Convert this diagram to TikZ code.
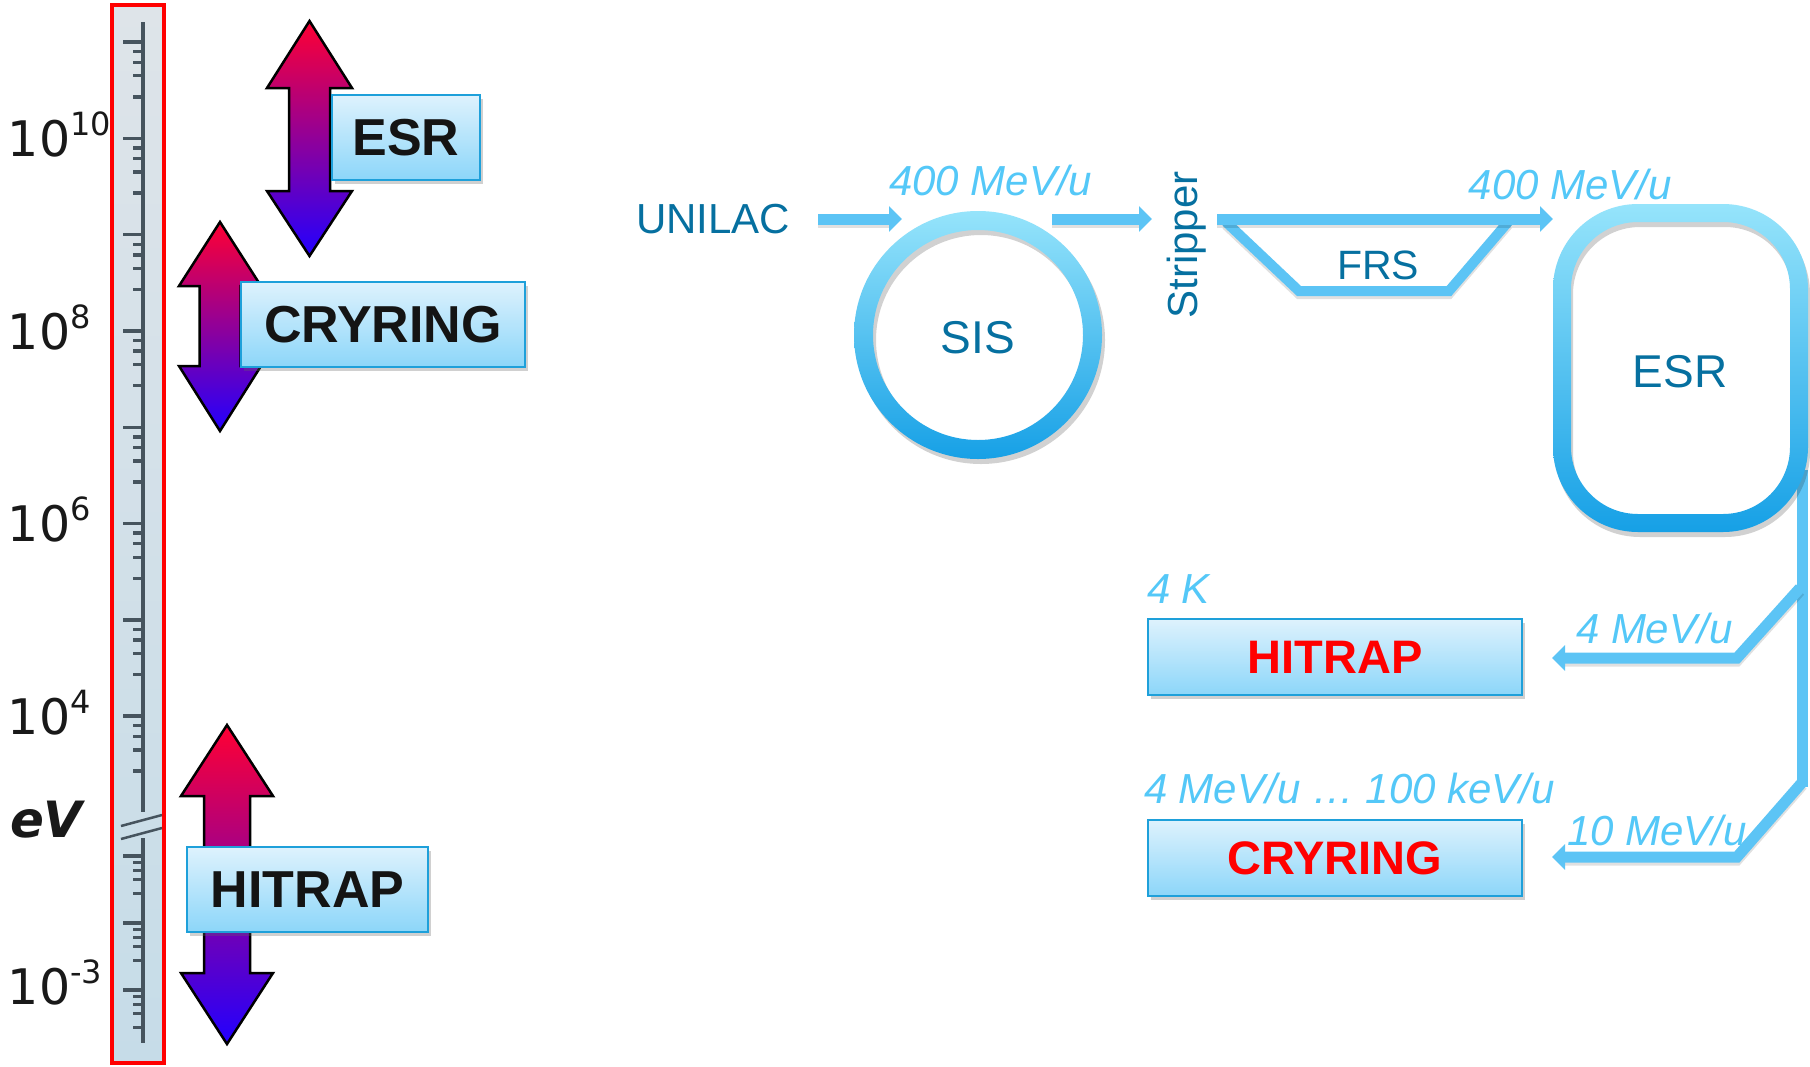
\documentclass[tikz,border=0pt]{standalone}
\usepackage{fontspec}
\setmainfont{Liberation Sans}
\newfontfamily\dejavu{DejaVu Sans}
\usetikzlibrary{arrows.meta,shadows}
\definecolor{teal0}{RGB}{6,112,160}
\definecolor{lblue}{RGB}{84,200,248}
\definecolor{beam}{RGB}{92,196,245}
\definecolor{boxtop}{RGB}{222,242,253}
\definecolor{boxbot}{RGB}{140,214,249}
\definecolor{boxedge}{RGB}{30,160,218}
\definecolor{ringtop}{RGB}{150,228,251}
\definecolor{ringbot}{RGB}{22,160,230}
\definecolor{tickc}{RGB}{70,84,94}
\definecolor{rulertop}{RGB}{222,228,233}
\definecolor{rulerbot}{RGB}{198,220,232}
\definecolor{arrred}{RGB}{255,0,51}
\definecolor{arrmid}{RGB}{200,0,160}
\definecolor{arrblue}{RGB}{34,0,255}
\newcommand{\fs}[1]{\fontsize{#1}{#1}\selectfont}
\newcommand{\darrow}[7]{\path[dblarrow] (#1,#2) -- ({#1+#6},#3) -- ({#1+#7},#3) -- ({#1+#7},#4) -- ({#1+#6},#4) -- (#1,#5) -- ({#1-#6},#4) -- ({#1-#7},#4) -- ({#1-#7},#3) -- ({#1-#6},#3) -- cycle;}
\begin{document}
\begin{tikzpicture}[x=1pt,y=-1pt,
  every node/.style={inner sep=0pt, outer sep=0pt},
  tickline/.style={draw=tickc, line width=3.4pt},
  scalelbl/.style={font=\dejavu\fs{49}, anchor=base west, text=black!90},
  dblarrow/.style={draw=black, line width=2.5pt, top color=arrred, middle color=arrmid, bottom color=arrblue, line join=miter},
  lbox/.style={draw=boxedge, line width=2pt, top color=boxtop, bottom color=boxbot,
     drop shadow={shadow xshift=3pt, shadow yshift=-4pt, fill=black!60, opacity=0.3}},
  ltext/.style={font=\bfseries\fs{52}, text=black!92},
  rtext/.style={font=\bfseries\fs{47}, text=red},
  bluelbl/.style={font=\itshape\fs{42}, text=lblue},
  teallbl/.style={text=teal0},
  beamline/.style={draw=beam, line width=11pt, line join=miter},
  beamarrow/.style={beamline, -{Triangle[width=25pt,length=13pt]}},
  beamshadow/.style={draw=black, opacity=0.12, line width=11pt, line join=miter},
  ringfill/.style={top color=ringtop, bottom color=ringbot, even odd rule},
]
\useasboundingbox (0,0) rectangle (1810,1066);
\fill[white] (0,0) rectangle (1810,1066);

% ---------- ruler ----------
\path[top color=rulertop, bottom color=rulerbot] (112,5) rectangle (164,1063);
\draw[tickline] (143,22) -- (143,812);
\draw[tickline] (143,838) -- (143,1043);
\foreach \k in {0,...,7}{
  \pgfmathsetmacro\yy{42+96.3*\k}
  \draw[tickline] (123,\yy) -- (143,\yy);
  \foreach \f in {0.10,0.21,0.35,0.57}{
    \pgfmathsetmacro\yt{\yy+96.3*\f}
    \draw[tickline] (133,\yt) -- (143,\yt);
  }
}
\foreach \k in {0,1,2}{
  \pgfmathsetmacro\yy{856+67*\k}
  \draw[tickline] (123,\yy) -- (143,\yy);
  \foreach \f in {0.10,0.22,0.35,0.56}{
    \pgfmathsetmacro\yt{\yy+67*\f}
    \draw[tickline] (133,\yt) -- (143,\yt);
  }
}
\draw[draw=tickc, line width=2.5pt] (121,826) -- (162,815);
\draw[draw=tickc, line width=2.5pt] (121,839) -- (162,828);
\draw[red, line width=4pt] (112,5) rectangle (164,1063);

\node[scalelbl] (e10) at (8,156) {10\raisebox{21pt}{\fs{32}10}};
\node[scalelbl] (e8) at (8,349) {10\raisebox{21pt}{\fs{32}8}};
\node[scalelbl] (e6) at (8,541) {10\raisebox{21pt}{\fs{32}6}};
\node[scalelbl] (e4) at (8,734) {10\raisebox{21pt}{\fs{32}4}};
\node[scalelbl] (em3) at (8,1004) {10\raisebox{21pt}{\fs{32}-3}};
\node[font=\dejavu\bfseries\itshape\fs{50}, anchor=base west, text=black!90] (ev) at (10,837) {eV};

% ---------- energy arrows ----------
\darrow{309.5}{21}{88}{191}{256}{42.5}{20.5}
\darrow{220}{222}{286}{366}{431}{41}{20.5}
\darrow{227}{725}{796}{973}{1044}{46}{23}

\node[lbox, ltext, minimum width=148, minimum height=85] (esrbox) at (406,137.5) {ESR};
\node[lbox, ltext, minimum width=284, minimum height=85] (crybox) at (383,324.5) {CRYRING};
\node[lbox, ltext, minimum width=241, minimum height=85] (hitbox) at (307.5,889.5) {HITRAP};

% ---------- facility ----------
\node[teallbl, font=\fs{42}, anchor=base west] (unilac) at (636,233) {UNILAC};
\coordinate (u1) at (818,219); \coordinate (u2) at (902,219);
\coordinate (s1) at (1052,219); \coordinate (s2) at (1152,219);
\coordinate (m1) at (1217,219); \coordinate (m2) at (1553,219);
\coordinate (f1) at (1226,222); \coordinate (f2) at (1299,291);
\coordinate (f3) at (1449,291); \coordinate (f4) at (1508,222);
\coordinate (v1) at (1802.5,470); \coordinate (v2) at (1802.5,787);
\coordinate (b1) at (1800,588); \coordinate (b2) at (1737,658); \coordinate (b3) at (1552,658);
\coordinate (c1) at (1802.5,782); \coordinate (c2) at (1737,857); \coordinate (c3) at (1552,857);

\draw[beamshadow, transform canvas={yshift=-3pt}] (u1) -- ([xshift=-12pt]u2);
\draw[beamarrow] (u1) -- (u2);
\draw[beamshadow, transform canvas={yshift=-3pt}] (s1) -- ([xshift=-12pt]s2);
\draw[beamarrow] (s1) -- (s2);

% SIS ring
\path[fill=black, opacity=0.18, even odd rule] (981,340) circle[radius=124pt] (981,340) circle[radius=105pt];
\path[ringfill] (978,335) circle[radius=124pt] (978,335) circle[radius=105pt];
\node[teallbl, font=\fs{46}, anchor=base] (sis) at (978,353) {SIS};

\node[teallbl, font=\fs{42}, rotate=90, anchor=base] (stripper) at (1197,245) {Stripper};

% FRS
\draw[beamshadow, line width=10pt, transform canvas={yshift=-3pt}] (f1) -- (f2) -- (f3) -- (f4);
\draw[beamline, line width=10pt] (f1) -- (f2) -- (f3) -- (f4);
\draw[beamshadow, transform canvas={yshift=-3pt}] (m1) -- ([xshift=-12pt]m2);
\draw[beamarrow] (m1) -- (m2);
\node[teallbl, font=\fs{41}, anchor=base] (frs) at (1378,279) {FRS};

% transfer lines
\draw[beamline] (v1) -- (v2);
\draw[beamshadow, transform canvas={yshift=-3pt}] (b1) -- (b2) -- ([xshift=12pt]b3);
\draw[beamarrow] (b1) -- (b2) -- (b3);
\draw[beamshadow, transform canvas={yshift=-3pt}] (c1) -- (c2) -- ([xshift=12pt]c3);
\draw[beamarrow] (c1) -- (c2) -- (c3);

% ESR ring
\path[fill=black, opacity=0.18, even odd rule] [rounded corners=85pt] (1555,209) rectangle (1810,537) [rounded corners=67pt] (1573,227) rectangle (1792,519);
\path[ringfill] [rounded corners=85pt] (1553,204) rectangle (1808,532) [rounded corners=67pt] (1571,222) rectangle (1790,514);
\node[teallbl, font=\fs{46}, anchor=base] (esr) at (1680,387) {ESR};

% labels
\node[bluelbl, anchor=base west] (l400a) at (889,195) {400 MeV/u};
\node[bluelbl, anchor=base east] (l400b) at (1672,199) {400 MeV/u};
\node[bluelbl, anchor=base west] (l4k) at (1147,603) {4 K};
\node[bluelbl, anchor=base west] (l4m) at (1576,643) {4 MeV/u};
\node[bluelbl, anchor=base west] (l10m) at (1567,845) {10 MeV/u};
\node[bluelbl, anchor=base west] (lrange) at (1144,803) {4 MeV/u … 100 keV/u};

\node[lbox, rtext, minimum width=374, minimum height=76] (hitrap) at (1335,657) {HITRAP};
\node[lbox, rtext, minimum width=374, minimum height=76] (cryring) at (1335,858) {CRYRING};
\end{tikzpicture}
\end{document}
